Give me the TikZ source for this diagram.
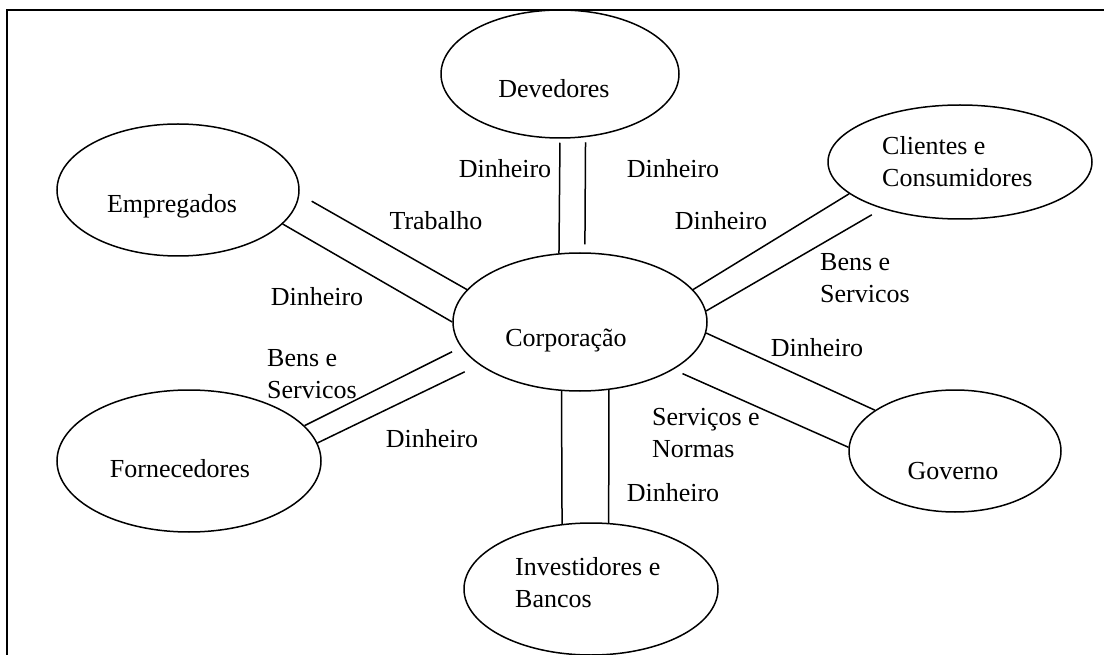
\documentclass[tikz,border=0pt]{standalone}
\usepackage{fontspec}
\setmainfont{Liberation Serif}
\usetikzlibrary{shapes.geometric,calc}

\begin{document}
\begin{tikzpicture}[
    x=1pt, y=-1pt,
    font=\fontsize{26}{32}\selectfont,
    actor_ell/.style={draw=black, ellipse, line width=1.5pt, inner sep=0pt},
    actor_text/.style={anchor=base, inner sep=0pt},
    flow_text/.style={anchor=base, inner sep=0pt},
    flow_multi/.style={anchor=base west, align=left, inner sep=0pt},
    flow_line/.style={line width=1.5pt}
]
\useasboundingbox (0,0) rectangle (1104,655);
\draw[line width=1.5pt] (7,655) |- (1104,10);

% ACTORS
\node[actor_ell, minimum width=238, minimum height=128] (dev) at (560,74) {};
\node[actor_ell, minimum width=242, minimum height=132] (emp) at (178,190) {};
\node[actor_ell, minimum width=264, minimum height=114] (cli) at (960,162) {};
\node[actor_ell, minimum width=254, minimum height=138] (corp) at (580,322) {};
\node[actor_ell, minimum width=264, minimum height=142] (forn) at (189,461) {};
\node[actor_ell, minimum width=212, minimum height=122] (gov) at (955,451) {};
\node[actor_ell, minimum width=254, minimum height=132] (inv) at (591,589) {};

% (multi-line texts are anchored on their last line)
\node[actor_text] (dev_txt) at (554,98) {Devedores};
\node[actor_text] (emp_txt) at (172,213) {Empregados};
\node[flow_multi] (cli_txt) at (882,187) {Clientes e\\Consumidores};
\node[actor_text] (corp_txt) at (566,346) {Corporação};
\node[actor_text] (forn_txt) at (180,477) {Fornecedores};
\node[actor_text] (gov_txt) at (953,479) {Governo};
\node[flow_multi] (inv_txt) at (515,607) {Investidores e\\Bancos};

% FLOWS
\draw[flow_line, shorten <=4] (dev.-90) -- (corp.107);
\draw[flow_line, shorten <=5, shorten >=8] (dev.-68) -- (corp.86);
\draw[flow_line, shorten <=14] (emp.-2) -- (corp.164);
\draw[flow_line] (emp.-18) -- (corp.180);
\draw[flow_line] (cli.196) -- (corp.16);
\draw[flow_line, shorten <=12] (cli.211) -- (corp.5);
\draw[flow_line] (corp.-5) -- (gov.153);
\draw[flow_line, shorten <=10] (corp.-27) -- (gov.178);
\draw[flow_line, shorten >=10] (forn.17) -- (corp.192);
\draw[flow_line, shorten >=16] (forn.8) -- (corp.203);
\draw[flow_line] (corp.255) -- (inv.114);
\draw[flow_line] (corp.-67) -- (inv.75);

% FLOW LABELS
\node[flow_text] (dev_l) at (505,178) {Dinheiro};
\node[flow_text] (dev_r) at (673,178) {Dinheiro};
\node[flow_text] (emp_up) at (436,230) {Trabalho};
\node[flow_text] (emp_lo) at (317,306) {Dinheiro};
\node[flow_text] (cli_up) at (721,230) {Dinheiro};
\node[flow_multi] (cli_lo) at (820,302) {Bens e\\Servicos};
\node[flow_text] (gov_up) at (817,356) {Dinheiro};
\node[flow_multi] (gov_lo) at (652,457) {Serviços e\\Normas};
\node[flow_multi] (forn_up) at (267,398) {Bens e\\Servicos};
\node[flow_text] (forn_lo) at (432,447) {Dinheiro};
\node[flow_text] (inv_r) at (673,501) {Dinheiro};

\end{tikzpicture}
\end{document}
